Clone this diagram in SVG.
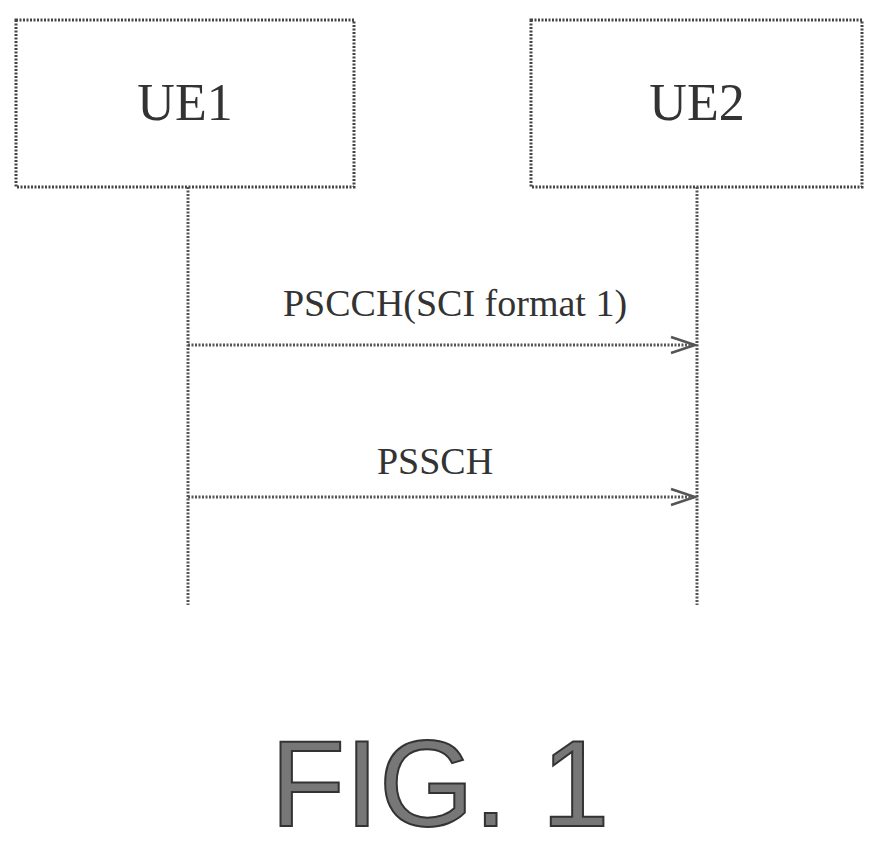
<svg xmlns="http://www.w3.org/2000/svg" width="883" height="852" viewBox="0 0 883 852">
<style>
.box{fill:#fff;stroke:#444;stroke-width:3;stroke-dasharray:2 1.5}
.line{stroke:#555;stroke-width:3;stroke-dasharray:2 1.5;fill:none}
.t{font-family:"Liberation Serif",serif;fill:#333;text-anchor:middle}
</style>
<defs><marker id="a" markerWidth="30" markerHeight="20" refX="26" refY="10" markerUnits="userSpaceOnUse" orient="auto"><path d="M2,2 L26,10 L2,18" fill="none" stroke="#555" stroke-width="2.5"/></marker></defs>
<rect width="883" height="852" fill="#fff"/>
<g id="ue1"><rect class="box" x="16" y="20" width="338" height="167"/><text class="t" x="185" y="120" font-size="52">UE1</text></g>
<g id="ue2"><rect class="box" x="531" y="20" width="331" height="167"/><text class="t" x="697" y="120" font-size="52">UE2</text></g>
<g id="connectors">
<line class="line" x1="188" y1="187" x2="188" y2="605"/>
<line class="line" x1="697" y1="187" x2="697" y2="605"/>
<line class="line" x1="188" y1="345" x2="695" y2="345" marker-end="url(#a)"/>
<line class="line" x1="188" y1="497" x2="695" y2="497" marker-end="url(#a)"/>
<text class="t" x="455" y="316" font-size="38">PSCCH(SCI format 1)</text>
<text class="t" x="435" y="474" font-size="38">PSSCH</text>
</g>
<text x="440" y="826" font-family="Liberation Sans,sans-serif" font-size="122" fill="#777" stroke="#333" stroke-width="2" text-anchor="middle">FIG. 1</text>
</svg>
